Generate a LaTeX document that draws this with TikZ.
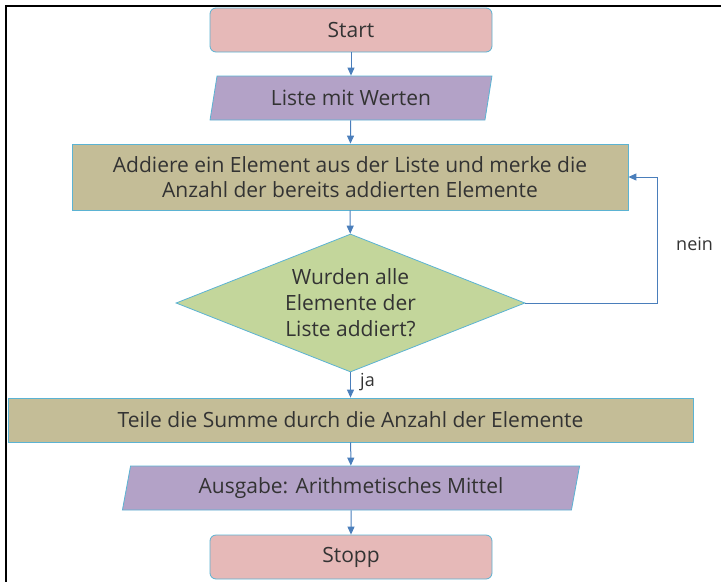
\documentclass[tikz,border=0pt]{standalone}
\usepackage{fontspec}
\setmainfont{Open Sans}
\usetikzlibrary{shapes.geometric,arrows.meta}
\definecolor{termfill}{HTML}{E6B9B8}
\definecolor{iofill}{HTML}{B3A2C7}
\definecolor{procfill}{HTML}{C4BD97}
\definecolor{decfill}{HTML}{C3D69B}
\definecolor{edgeblue}{HTML}{5BB3D3}
\definecolor{arrowblue}{HTML}{4A7EBB}
\definecolor{txt}{HTML}{333333}
\tikzset{
  base/.style={draw=edgeblue, line width=0.8pt, text=txt, font=\fontsize{21}{25}\selectfont, align=center, inner sep=0pt},
  term/.style={base, fill=termfill, rounded corners=6pt, minimum width=282pt, minimum height=44pt},
  io/.style={base, fill=iofill, trapezium, trapezium left angle=75, trapezium right angle=105, trapezium stretches=true, minimum width=282pt, minimum height=44pt},
  proc/.style={base, fill=procfill, rectangle, minimum height=44pt},
  dec/.style={base, fill=decfill, diamond, aspect=2.5, minimum width=349pt, minimum height=138pt},
  arr/.style={draw=arrowblue, line width=1pt, -{Triangle[length=8pt,width=7pt]}},
  lbl/.style={text=txt, font=\fontsize{18}{20}\selectfont, inner sep=0pt}
}
\begin{document}
\begin{tikzpicture}[x=1pt,y=-1pt]
\useasboundingbox (0,0) rectangle (721,582);
\draw[black,line width=2pt] (721,6) -- (6,6) -- (6,582);
\node[term] (start) at (351,30) {Start};
\node[io] (liste) at (351,98) {Liste mit Werten};
\node[proc, minimum width=556pt, minimum height=66pt] (add) at (350,177) {Addiere ein Element aus der Liste und merke die\\Anzahl der bereits addierten Elemente};
\node[dec, font=\fontsize{21}{26}\selectfont] (dec) at (350.5,303) {Wurden alle\\Elemente der\\Liste addiert?};
\node[proc, minimum width=685pt] (teile) at (350.5,420) {Teile die Summe durch die Anzahl der Elemente};
\node[io, minimum width=458pt] (aus) at (351,488) {Ausgabe: Arithmetisches Mittel};
\node[term] (stopp) at (351,557) {Stopp};
\draw[arr] (start) -- (liste);
\draw[arr] (liste) -- (add);
\draw[arr] (add) -- (dec);
\draw[arr] (dec) -- (teile);
\draw[arr] (teile) -- (aus);
\draw[arr] (aus) -- (stopp);
\draw[arr] (dec.east) -- ++(132,0) |- (add.east);
\node[lbl, anchor=west] (ja) at (360,382) {ja};
\node[lbl, anchor=west] (nein) at (676,244) {nein};
\end{tikzpicture}
\end{document}
